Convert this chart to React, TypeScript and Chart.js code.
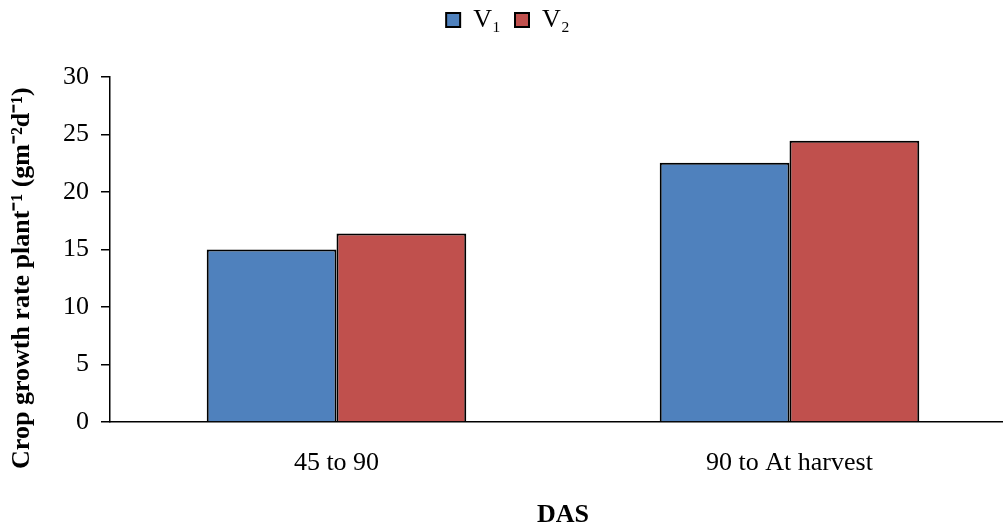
import React, { useEffect, useRef } from "react";
import { Chart, registerables } from "chart.js";

Chart.register(...registerables);

const categories = ["45 to 90", "90 to At harvest"];
const seriesNames = ["V₁", "V₂"];
const v1Values = [15.0, 22.55];
const v2Values = [16.4, 24.45];
const yTicks = [0, 5, 10, 15, 20, 25, 30];
const yTitle = "Crop growth rate plant⁻¹ (gm⁻²d⁻¹)\u2003\u2003\u2009";
const xTitle = "DAS";

const FONT = "'Liberation Serif', 'Times New Roman', serif";
const FS = 26;

const legendHeightPlugin = {
  id: "legendHeight",
  beforeInit(chart: any) {
    const lg = chart.legend;
    if (!lg) return;
    const orig = lg.fit;
    lg.fit = function () {
      orig.bind(lg)();
      this.height = 84;
    };
  },
};

export default function App() {
  const ref = useRef<HTMLCanvasElement>(null);
  useEffect(() => {
    if (!ref.current) return;
    const chart = new Chart(ref.current, {
      type: "bar",
      data: {
        labels: categories,
        datasets: [
          {
            label: seriesNames[0],
            data: v1Values,
            backgroundColor: "#4F81BD",
            borderColor: "#000000",
            borderWidth: 2,
          },
          {
            label: seriesNames[1],
            data: v2Values,
            backgroundColor: "#C0504D",
            borderColor: "#000000",
            borderWidth: 2,
          },
        ],
      },
      plugins: [legendHeightPlugin],
      options: {
        responsive: false,
        animation: false,
        layout: { padding: { top: -7, left: 0, right: 0, bottom: -4 } },
        datasets: { bar: { barPercentage: 1, categoryPercentage: 0.573 } },
        plugins: {
          legend: {
            position: "top",
            labels: {
              font: { family: FONT, size: FS },
              color: "#000",
              boxWidth: 14,
              boxHeight: 14,
              padding: 14,
            },
          },
          tooltip: { enabled: false },
        },
        scales: {
          x: {
            grid: { display: false, drawTicks: false, tickLength: 0 },
            border: { display: true, color: "#000", width: 1.5 },
            ticks: { font: { family: FONT, size: FS }, color: "#000", padding: 26 },
            title: {
              display: true,
              text: xTitle,
              font: { family: FONT, size: FS, weight: "bold", lineHeight: 0.8 },
              color: "#000",
              padding: { top: 0, bottom: 0 },
            },
          },
          y: {
            min: 0,
            max: 30,
            afterBuildTicks: (axis: any) => {
              axis.ticks = yTicks.map((v) => ({ value: v }));
            },
            grid: {
              display: true,
              drawOnChartArea: false,
              drawTicks: true,
              tickLength: 9,
              color: "#000",
              lineWidth: 1.5,
            },
            border: { display: true, color: "#000", width: 1.5 },
            ticks: { font: { family: FONT, size: FS }, color: "#000", padding: 12 },
            title: {
              display: true,
              text: yTitle,
              font: { family: FONT, size: FS, weight: "bold", lineHeight: 1 },
              color: "#000",
              padding: { top: 9, bottom: 16 },
            },
          },
        },
      },
    });
    return () => chart.destroy();
  }, []);
  return (
    <div
      style={{
        position: "fixed",
        left: 0,
        top: 0,
        width: 1003,
        height: 522,
        overflow: "hidden",
        background: "#fff",
      }}
    >
      <canvas ref={ref} width={1016} height={522} style={{ width: 1016, height: 522 }} />
    </div>
  );
}
